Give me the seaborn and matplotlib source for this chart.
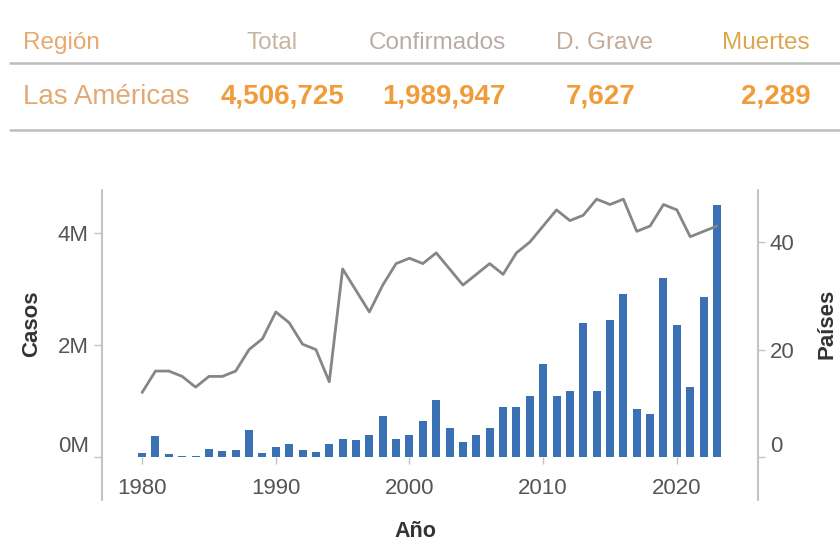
import matplotlib
matplotlib.use("Agg")
import matplotlib.pyplot as plt
from matplotlib.lines import Line2D
import numpy as np
import pandas as pd
import seaborn as sns

# ---- data ----
years = list(range(1980, 2024))
casos = [80000, 370000, 50000, 20000, 20000, 150000, 100000, 130000, 490000, 80000,
         180000, 240000, 120000, 90000, 240000, 330000, 300000, 400000, 730000, 330000,
         400000, 640000, 1020000, 520000, 260000, 400000, 520000, 890000, 890000, 1090000,
         1670000, 1090000, 1180000, 2400000, 1180000, 2440000, 2920000, 860000, 770000, 3200000,
         2360000, 1250000, 2850000, 4506725]
paises = [12, 16, 16, 15, 13, 15, 15, 16, 20, 22,
          27, 25, 21, 20, 14, 35, 31, 27, 32, 36,
          37, 36, 38, 35, 32, 34, 36, 34, 38, 40,
          43, 46, 44, 45, 48, 47, 48, 42, 43, 47,
          46, 41, 42, 43]
col_headers = ["Región", "Total", "Confirmados", "D. Grave", "Muertes"]
row_values = ["Las Américas", "4,506,725", "1,989,947", "7,627", "2,289"]
x_ticks = [1980, 1990, 2000, 2010, 2020]
left_ticks = [0, 2000000, 4000000]
left_tick_labels = ["0M", "2M", "4M"]
right_ticks = [0, 20, 40]

sns.set_theme(style="white")
plt.rcParams["font.family"] = ["Liberation Sans", "DejaVu Sans"]

W, H = 840, 543
fig = plt.figure(figsize=(W / 100, H / 100), dpi=100)

def fx(px):
    return px / W

def fy(py):
    return 1 - py / H

# ---- table ----
header_colors = ["#e9a86c", "#c9b49e", "#b9aca8", "#c6ab98", "#dca64e"]
header_pos = [(23, "left"), (272, "center"), (437, "center"), (605, "center"), (766, "center")]
for txt, (x, ha), c in zip(col_headers, header_pos, header_colors):
    fig.text(fx(x), fy(43), txt, ha=ha, va="center", fontsize=17.5, color=c)

value_colors = ["#e2a972", "#f09c3a", "#f09c3a", "#f09c3a", "#f09c3a"]
value_pos = [(23, "left"), (283, "center"), (444, "center"), (601, "center"), (776, "center")]
for i, (txt, (x, ha), c) in enumerate(zip(row_values, value_pos, value_colors)):
    fig.text(fx(x), fy(97), txt, ha=ha, va="center", fontsize=20, color=c,
             fontweight="normal" if i == 0 else "bold")

for yy in (63, 130):
    fig.add_artist(Line2D([fx(10), 1.0], [fy(yy), fy(yy)], transform=fig.transFigure,
                          color="#bdbdbd", lw=1.8))

# ---- chart ----
df = pd.DataFrame({"Año": years, "Casos": casos, "Países": paises})
ax = fig.add_axes([fx(102), fy(457), (758 - 102) / W, (457 - 190) / H])
sns.barplot(data=df, x="Año", y="Casos", native_scale=True, width=0.6,
            color="#3a70b4", saturation=1, linewidth=0, errorbar=None, ax=ax)
ax2 = ax.twinx()
sns.lineplot(data=df, x="Año", y="Países", color="#868686", lw=2.0, ax=ax2)

ax.set_xlim(1977.0, 2026.07)
ax.set_ylim(0, 4.77e6)
ax2.set_ylim(0, 49.7)

for a in (ax, ax2):
    for s in a.spines.values():
        s.set_visible(False)
    a.grid(False)

ax.set_xticks(x_ticks)
ax.set_xticklabels([str(v) for v in x_ticks])
ax.set_yticks(left_ticks)
ax.set_yticklabels(left_tick_labels)
ax2.set_yticks(right_ticks)
ax2.set_yticklabels([str(v) for v in right_ticks])

ax.tick_params(axis="x", length=5, width=1, color="#c4c4c4", pad=10, labelsize=16, labelcolor="#555555", bottom=True)
ax.tick_params(axis="y", length=5.5, width=1, color="#c4c4c4", pad=4, labelsize=16, labelcolor="#555555", left=True)
ax2.tick_params(axis="y", length=5, width=1, color="#c4c4c4", pad=3.5, labelsize=16, labelcolor="#555555", right=True)

ax.get_yticklabels()[0].set_va("bottom")
ax2.get_yticklabels()[0].set_va("bottom")

ax.set_xlabel("Año", fontsize=15.5, fontweight="bold", color="#333333")
ax.xaxis.set_label_coords((415 - 102) / 656, (457 - 521) / 267)
ax.set_ylabel("Casos", fontsize=16, fontweight="bold", color="#333333")
ax.yaxis.set_label_coords((42 - 102) / 656, 0.5)
ax2.set_ylabel("Países", fontsize=16, fontweight="bold", color="#333333")
ax2.yaxis.set_label_coords((816 - 102) / 656, 0.5)

for xp in (102, 758):
    fig.add_artist(Line2D([fx(xp), fx(xp)], [fy(190), fy(500)], transform=fig.transFigure,
                          color="#c4c4c4", lw=1.5))

fig.savefig("out.png", dpi=100)
